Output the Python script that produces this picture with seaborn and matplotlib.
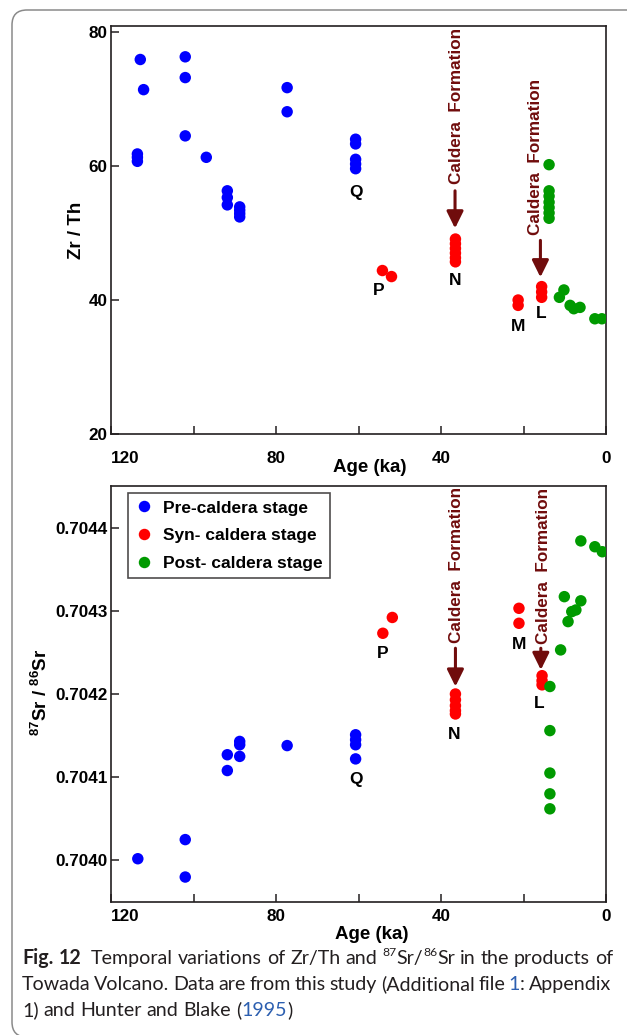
import matplotlib
matplotlib.use('Agg')
import matplotlib.pyplot as plt
import matplotlib.transforms as mtransforms
from matplotlib.patches import FancyBboxPatch
from matplotlib.ticker import FixedLocator
import seaborn as sns
import pandas as pd

# ---------------- data ----------------
stages = ["Pre-caldera stage", "Syn- caldera stage", "Post- caldera stage"]
stage_colors = ["#0000ff", "#ff0000", "#009a00"]

# Zr/Th panel
zr_pre_age = [112.9, 112.1, 113.6, 113.6, 113.6, 102.0, 102.0, 102.0, 96.9,
              91.8, 91.8, 91.8, 88.8, 88.8, 88.8, 88.8, 77.3, 77.3,
              60.7, 60.7, 60.7, 60.7, 60.7]
zr_pre_val = [75.9, 71.4, 61.8, 61.3, 60.7, 76.3, 73.2, 64.5, 61.3,
              56.3, 55.3, 54.2, 53.9, 53.4, 52.9, 52.4, 71.7, 68.1,
              64.0, 63.3, 61.0, 60.3, 59.6]
zr_syn_age = [54.2, 52.0, 36.5, 36.5, 36.5, 36.5, 36.5, 36.5, 21.3, 21.3, 15.6, 15.6, 15.6]
zr_syn_val = [44.4, 43.5, 49.1, 48.4, 47.7, 47.0, 46.3, 45.7, 40.0, 39.2, 42.0, 41.2, 40.4]
zr_post_age = [13.8, 13.8, 13.8, 13.8, 13.8, 13.8, 13.8, 10.2, 11.3, 8.7, 7.8, 6.3, 2.7, 1.0]
zr_post_val = [60.2, 56.3, 55.5, 54.6, 53.8, 53.0, 52.2, 41.5, 40.4, 39.2, 38.7, 38.9, 37.2, 37.2]

# 87Sr/86Sr panel
sr_pre_age = [113.5, 102.0, 102.0, 91.8, 91.8, 88.8, 88.8, 88.8, 77.3, 60.7, 60.7, 60.7, 60.7]
sr_pre_val = [0.704002, 0.704025, 0.703980, 0.704127, 0.704108, 0.704143, 0.704139,
              0.704125, 0.704138, 0.704151, 0.704145, 0.704139, 0.704122]
sr_syn_age = [54.1, 51.8, 21.1, 21.1, 36.5, 36.5, 36.5, 36.5, 36.5, 15.5, 15.5, 15.5]
sr_syn_val = [0.704273, 0.704292, 0.704303, 0.704285, 0.704200, 0.704193, 0.704186,
              0.704180, 0.704176, 0.704222, 0.704216, 0.704211]
sr_post_age = [6.1, 2.7, 0.9, 10.1, 6.1, 8.3, 7.3, 9.2, 11.0, 13.6, 13.6, 13.6, 13.6, 13.6]
sr_post_val = [0.704384, 0.704377, 0.704371, 0.704317, 0.704312, 0.704299, 0.704301,
               0.704287, 0.704253, 0.704209, 0.704156, 0.704105, 0.704080, 0.704062]

x_major = [120, 80, 40, 0]
x_major_labels = ["120", "80", "40", "0"]
x_minor = [100, 60, 20]
zr_ticks = [20, 40, 60, 80]
zr_tick_labels = ["20", "40", "60", "80"]
sr_ticks = [0.7040, 0.7041, 0.7042, 0.7043, 0.7044]
sr_tick_labels = ["0.7040", "0.7041", "0.7042", "0.7043", "0.7044"]

# group labels (letter, age, value)
zr_group_labels = [("Q", 60.7, 56.1), ("P", 55.1, 41.4), ("N", 36.5, 42.9), ("M", 21.4, 36.0), ("L", 15.6, 38.0)]
sr_group_labels = [("Q", 60.7, 0.704097), ("P", 54.1, 0.704249), ("N", 36.8, 0.704151),
                   ("M", 21.1, 0.704260), ("L", 16.2, 0.704189)]

# ---------------- frames ----------------
def make_df(parts):
    rows = []
    for stage, ages, vals in parts:
        for a, v in zip(ages, vals):
            rows.append({"Age": a, "Value": v, "Stage": stage})
    return pd.DataFrame(rows)

df_zr = make_df([(stages[0], zr_pre_age, zr_pre_val), (stages[1], zr_syn_age, zr_syn_val),
                 (stages[2], zr_post_age, zr_post_val)])
df_sr = make_df([(stages[0], sr_pre_age, sr_pre_val), (stages[1], sr_syn_age, sr_syn_val),
                 (stages[2], sr_post_age, sr_post_val)])
palette = dict(zip(stages, stage_colors))

# ---------------- style ----------------
sns.set_theme(style="white")
plt.rcParams['font.family'] = ['Liberation Sans', 'DejaVu Sans']
plt.rcParams['mathtext.fontset'] = 'custom'
plt.rcParams['mathtext.rm'] = 'Liberation Sans'
plt.rcParams['mathtext.bf'] = 'Liberation Sans:bold'
plt.rcParams['mathtext.it'] = 'Liberation Sans:italic'

W, H = 627, 1035
fig = plt.figure(figsize=(W / 100, H / 100), dpi=100)
fig.patch.set_facecolor('white')


def px_axes(l, t, r, b):
    return fig.add_axes([l / W, 1 - b / H, (r - l) / W, (b - t) / H])


ax1 = px_axes(111, 26, 606, 434)
ax2 = px_axes(111, 486, 606, 902)

INK = '#231f20'
MAROON = '#700c0c'
MS = 68
TICK_FS = 12.3

sns.scatterplot(data=df_zr, x="Age", y="Value", hue="Stage", hue_order=stages, palette=palette,
                s=MS, linewidth=0, ax=ax1, legend=False, zorder=3)
sns.scatterplot(data=df_sr, x="Age", y="Value", hue="Stage", hue_order=stages, palette=palette,
                s=MS, linewidth=0, ax=ax2, legend=True, zorder=3)


def style_axes(ax, yticks, ylabels, xpad):
    ax.set_facecolor('white')
    for sp in ax.spines.values():
        sp.set_visible(True)
        sp.set_color(INK)
        sp.set_linewidth(1.2)
    ax.set_xlim(120, 0)
    ax.xaxis.set_major_locator(FixedLocator(x_major))
    ax.xaxis.set_minor_locator(FixedLocator(x_minor))
    ax.set_xticklabels(x_major_labels, fontweight='bold', fontsize=TICK_FS)
    ax.get_xticklabels()[0].set_horizontalalignment('left')
    ax.set_yticks(yticks)
    ax.set_yticklabels(ylabels, fontweight='bold', fontsize=TICK_FS)
    ax.tick_params(which='both', direction='in', length=6, width=1.1, color=INK,
                   labelcolor='black', bottom=True, left=True, top=False, right=False)
    ax.tick_params(axis='x', which='both', pad=xpad)
    ax.tick_params(axis='y', which='both', pad=2.5)
    ax.grid(False)


style_axes(ax1, zr_ticks, zr_tick_labels, 12.0)
ax1.set_ylim(20, 80.9)
style_axes(ax2, sr_ticks, sr_tick_labels, 5.0)
ax2.set_ylim(0.70395, 0.70445)

ax1.set_xlabel("Age (ka)", fontsize=13.5, fontweight='bold', color='black')
ax1.xaxis.set_label_coords(0.523, -0.061)
ax2.set_xlabel("Age (ka)", fontsize=13.5, fontweight='bold', color='black')
ax2.xaxis.set_label_coords(0.527, -0.058)
ax1.set_ylabel("Zr / Th", fontsize=13.5, fontweight='bold', color='black')
ax1.yaxis.set_label_coords(-0.052, 0.50)
ax2.set_ylabel(r"$\mathbf{^{87}Sr\ /\ ^{86}Sr}$", fontsize=13.5, color='black')
ax2.yaxis.set_label_coords(-0.121, 0.505)

# group letters
for ax, labs in ((ax1, zr_group_labels), (ax2, sr_group_labels)):
    for t, a, v in labs:
        ax.text(a, v, t, ha='center', va='center', fontsize=12.5, fontweight='bold', color='black')


def caldera(ax, tx, ty, arrow_x, y_tail, y_tip):
    ax.text(tx, ty, "Caldera  Formation", rotation=90, ha='center', va='center',
            color=MAROON, fontsize=12.3, fontweight='bold')
    ax.annotate('', xy=(arrow_x, y_tip), xytext=(arrow_x, y_tail),
                arrowprops=dict(arrowstyle='-|>,head_length=0.85,head_width=0.42', color=MAROON,
                                lw=2.2, mutation_scale=12, shrinkA=0, shrinkB=0))


caldera(ax1, 36.3, 68.9, 36.6, 56.3, 50.7)
caldera(ax1, 17.2, 61.3, 15.9, 48.9, 43.4)
caldera(ax2, 36.3, 0.704355, 36.5, 0.704255, 0.704209)
caldera(ax2, 15.1, 0.704354, 15.8, 0.704255, 0.704229)

# legend
sns.move_legend(ax2, "upper left", bbox_to_anchor=(0.0337, 0.983), title=None, frameon=True,
                fancybox=False, borderaxespad=0, borderpad=0.42, handlelength=1.0,
                handletextpad=0.6, labelspacing=0.72, prop={'weight': 'bold', 'size': 12.5})
leg = ax2.get_legend()
leg.get_frame().set_edgecolor(INK)
leg.get_frame().set_linewidth(1.2)
for txt in leg.get_texts():
    txt.set_color('black')

# ---------------- border ----------------
fig.add_artist(FancyBboxPatch((12, -2), 700, 1025 + 2, boxstyle='round,pad=0,rounding_size=15',
                              transform=mtransforms.IdentityTransform(), fill=False,
                              ec='#8a8a8a', lw=1.1))

# ---------------- caption ----------------
renderer = fig.canvas.get_renderer()
CAP_FAMILY = ['Lato', 'DejaVu Sans']
CAP_COLOR = '#231f20'
LINK = '#2c5fb0'


def pkw(style, fs):
    kw = dict(fontsize=fs, family=CAP_FAMILY, color=CAP_COLOR, weight='normal')
    if style == 'b':
        kw['weight'] = 'bold'
    if style == 'link':
        kw['color'] = LINK
    if style == 'sup':
        kw['fontsize'] = fs * 0.62
    return kw


def measure(s, **kw):
    t = fig.text(0, 0, s, **kw)
    w = t.get_window_extent(renderer).width
    t.remove()
    return w


def space_w(fs):
    return measure("a a", **pkw('r', fs)) - measure("aa", **pkw('r', fs))


line1 = [[("Fig.", 'b')], [("12", 'b')], None, [("Temporal", 'r')], [("variations", 'r')], [("of", 'r')],
         [("Zr/Th", 'r')], [("and", 'r')], [("87", 'sup'), ("Sr/", 'r'), ("86", 'sup'), ("Sr", 'r')],
         [("in", 'r')], [("the", 'r')], [("products", 'r')], [("of", 'r')]]
line2 = [[("Towada", 'r')], [("Volcano.", 'r')], [("Data", 'r')], [("are", 'r')], [("from", 'r')],
         [("this", 'r')], [("study", 'r')], [("(Additional", 'r')], [("file", 'r')],
         [("1", 'link'), (":", 'r')], [("Appendix", 'r')]]
line3 = [[("1)", 'r')], [("and", 'r')], [("Hunter", 'r')], [("and", 'r')], [("Blake", 'r')],
         [("(", 'r'), ("1995", 'link'), (")", 'r')]]


def word_w(word, fs):
    return sum(measure(t, **pkw(s, fs)) for t, s in word)


def line_natural(line, fs):
    words = [w for w in line if w is not None]
    gaps = len(line) - 1
    return sum(word_w(w, fs) for w in words) + gaps * space_w(fs)


X0, X1 = 22, 611
fs0 = 12.0
fs = fs0 * (X1 - X0) / line_natural(line1, fs0)


def draw_line(line, baseline, justify):
    sw = space_w(fs)
    words = [w for w in line if w is not None]
    gaps = len(line) - 1
    if justify:
        total = sum(word_w(w, fs) for w in words)
        sw = (X1 - X0 - total) / gaps
    x = X0
    for w in line:
        if w is None:
            x += sw
            continue
        for t, s in w:
            kw = pkw(s, fs)
            yb = baseline
            if s == 'sup':
                yb = baseline - 0.42 * fs * 100 / 72
            fig.text(x / W, 1 - yb / H, t, ha='left', va='baseline', **kw)
            x += measure(t, **kw)
        x += sw


draw_line(line1, 964, False)
draw_line(line2, 990, True)
draw_line(line3, 1016.5, False)

fig.savefig("out.png", dpi=100, facecolor='white')
